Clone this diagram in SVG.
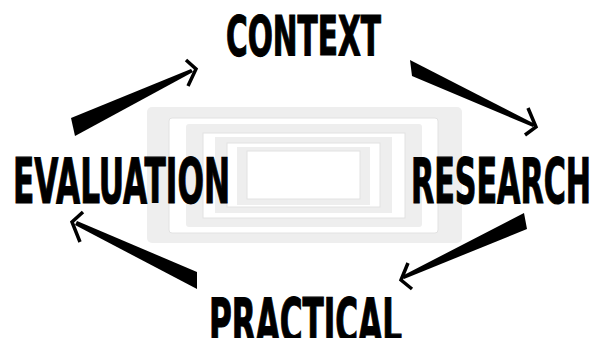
<svg xmlns="http://www.w3.org/2000/svg" width="598" height="338" viewBox="0 0 598 338">
<style>
.lbl{font-family:"DejaVu Sans Condensed","DejaVu Sans","Liberation Sans Narrow",sans-serif;font-weight:bold;fill:#000;stroke:#000;stroke-width:1.2}
.g{fill:#eeeeee}
.w{fill:#ffffff;stroke:#e2e2e2;stroke-width:1}
.wedge{fill:#000}
.head{fill:none;stroke:#000;stroke-width:3.5;stroke-linejoin:miter;stroke-linecap:butt}
</style>
<rect width="598" height="338" fill="#fff"/>
<g id="frame">
<rect class="g" x="147" y="107" width="315" height="136" rx="5"/>
<rect class="w" x="169" y="118" width="269" height="115" rx="3"/>
<rect class="g" x="186" y="124" width="236" height="103" rx="3"/>
<rect class="w" x="203" y="133" width="202" height="85"/>
<rect class="g" x="215" y="137" width="177" height="76"/>
<rect class="w" x="227" y="143" width="153" height="64"/>
<rect class="g" x="237" y="147" width="133" height="58" fill="#f4f4f4"/>
<rect class="w" x="247" y="151" width="113" height="48" stroke="#f0f0f0"/>
</g>
<g id="connectors">
<polygon class="wedge" points="71,118 75,136 193,72 191,69"/>
<polyline class="head" points="186,60 196,69 188,86"/>
<polygon class="wedge" points="410,60 412,76 533,127 535,124"/>
<polyline class="head" points="528,108 536,127 525,135"/>
<polygon class="wedge" points="524,213 527,229 404,279 402,276"/>
<polyline class="head" points="408,263 401,280 412,289"/>
<polygon class="wedge" points="197,272 197,289 75,225 77,221"/>
<polyline class="head" points="83,212 72,222 80,242"/>
</g>
<g id="context"><text class="lbl" x="226" y="55" font-size="56" textLength="155" lengthAdjust="spacingAndGlyphs">CONTEXT</text></g>
<g id="evaluation"><text class="lbl" x="13" y="203" font-size="63" textLength="217" lengthAdjust="spacingAndGlyphs">EVALUATION</text></g>
<g id="research"><text class="lbl" x="411" y="203" font-size="63" textLength="180" lengthAdjust="spacingAndGlyphs">RESEARCH</text></g>
<g id="practical"><text class="lbl" x="209" y="343" font-size="63" textLength="193" lengthAdjust="spacingAndGlyphs">PRACTICAL</text></g>
</svg>
